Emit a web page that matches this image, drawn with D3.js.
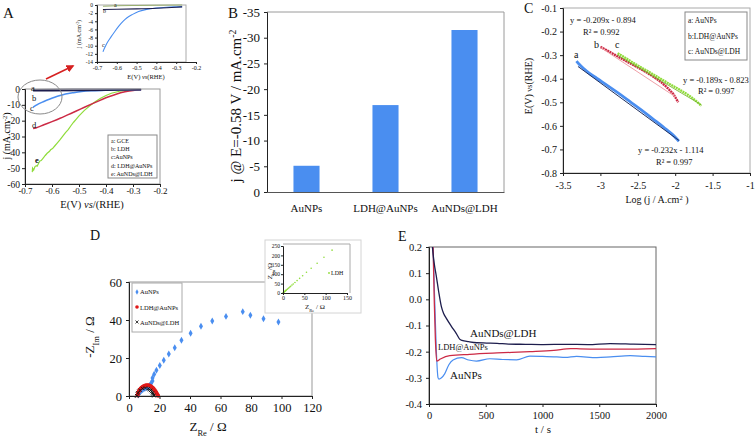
<!DOCTYPE html>
<html><head><meta charset="utf-8">
<script src="https://cdn.jsdelivr.net/npm/d3@7"></script>
<style>body{margin:0;background:#fff} svg{display:block}</style>
</head><body><svg id="c" width="756" height="437"></svg>
<script>
// ---------------- DATA ----------------
// Panel A (LSV) : [E (V vs RHE), j (mA/cm2)]
const aGCE = [[-0.67,-0.3],[-0.6,-0.2],[-0.5,-0.12],[-0.4,-0.06],[-0.27,0]];
const aLDH = [[-0.67,-1.1],[-0.6,-1.05],[-0.5,-0.95],[-0.4,-0.8],[-0.3,-0.55],[-0.27,-0.45]];
const aAuNPs = [[-0.67,-11.5],[-0.66,-10.4],[-0.65,-9.4],[-0.63,-7.9],[-0.61,-6.5],[-0.59,-5.2],[-0.57,-4.1],[-0.55,-3.2],[-0.52,-2.3],[-0.49,-1.6],[-0.45,-1.1],[-0.4,-0.75],[-0.35,-0.55],[-0.3,-0.45],[-0.27,-0.4]];
const aLDHAu = [[-0.67,-25],[-0.66,-24.6],[-0.63,-22.6],[-0.6,-20.6],[-0.57,-18.5],[-0.54,-16.2],[-0.51,-13.9],[-0.48,-11.5],[-0.45,-9.2],[-0.42,-7.0],[-0.39,-4.9],[-0.36,-3.1],[-0.33,-1.8],[-0.3,-0.9],[-0.27,-0.5]];
const aAuNDs = [[-0.673,-52.5],[-0.672,-50],[-0.668,-51.2],[-0.663,-49],[-0.658,-48.5],[-0.655,-48.8],[-0.65,-47],[-0.645,-45.5],[-0.64,-45.2],[-0.632,-43.5],[-0.625,-42],[-0.618,-40.6],[-0.61,-39.5],[-0.605,-38.4],[-0.598,-37.6],[-0.59,-36],[-0.58,-34],[-0.57,-32],[-0.56,-29.8],[-0.55,-27.5],[-0.54,-25.6],[-0.53,-23.2],[-0.52,-21],[-0.51,-19],[-0.5,-17],[-0.48,-13.5],[-0.46,-10.6],[-0.44,-8],[-0.42,-5.8],[-0.4,-4.1],[-0.38,-2.7],[-0.35,-1.4],[-0.32,-0.8],[-0.27,-0.3]];
const aLegend = ["a:  GCE","b:  LDH","c:AuNPs","d:  LDH@AuNPs","e:  AuNDs@LDH"];
const aYTicks = [0,-10,-20,-30,-40,-50,-60];
const aXTicks = [-0.7,-0.6,-0.5,-0.4,-0.3,-0.2];
const aInsetYTicks = [0,-2,-4,-6,-8,-10,-12,-14];

// Panel B (bars)
const bCategories = ["AuNPs","LDH@AuNPs","AuNDs@LDH"];
const bValues = [-5.1,-16.9,-31.5];
const bYTicks = [0,-5,-10,-15,-20,-25,-30,-35];

// Panel C (Tafel) : [log j, E]
const cAuNPs = [[-3.32,-0.325],[-3.28,-0.34],[-3.22,-0.358],[-3.15,-0.376],[-3.05,-0.398],[-2.9,-0.43],[-2.75,-0.463],[-2.6,-0.498],[-2.45,-0.533],[-2.3,-0.57],[-2.15,-0.607],[-2.05,-0.633],[-1.95,-0.665]];
const cLDHAu = [[-3.0,-0.265],[-2.9,-0.282],[-2.8,-0.3],[-2.7,-0.318],[-2.6,-0.335],[-2.5,-0.352],[-2.4,-0.37],[-2.3,-0.39],[-2.2,-0.412],[-2.1,-0.44],[-2.02,-0.468],[-1.96,-0.5]];
const cAuNDs = [[-2.77,-0.292],[-2.7,-0.305],[-2.55,-0.335],[-2.4,-0.362],[-2.25,-0.39],[-2.1,-0.418],[-1.95,-0.445],[-1.8,-0.475],[-1.7,-0.5],[-1.65,-0.515]];
const cFitA = [[-3.3,-0.348],[-1.95,-0.662]];
const cFitB = [[-3.0,-0.267],[-2.0,-0.476]];
const cFitC = [[-2.77,-0.3],[-1.65,-0.511]];
const cLegend = ["a: AuNPs","b:LDH@AuNPs","c: AuNDs@LDH"];
const cYTicks = [-0.1,-0.2,-0.3,-0.4,-0.5,-0.6,-0.7,-0.8];
const cXTicks = [-3.5,-3,-2.5,-2,-1.5,-1];

// Panel D (Nyquist) : [Z_Re, -Z_Im]
const dAuNPs = [[6.0,0.5],[6.8,1.6],[7.8,2.6],[9.0,3.3],[10.4,3.9],[12.0,4.5],[13.4,5.4],[14.4,6.6],[15.4,7.9],[15.4,9.5],[16.5,11.4],[18,13.5],[20.2,16.1],[22.8,18.8],[26.1,22.1],[30,25.4],[34.4,29.3],[40.4,33],[47.2,36.7],[54.6,39.5],[63.6,41.9],[74.6,44.4],[79.6,42.5],[88.2,40.7],[98,38.9]];
const dLDHAu = [[5.6,0.2],[5.8,1.0],[6.1,1.8],[6.5,2.6],[7.0,3.3],[7.6,3.9],[8.3,4.5],[9.0,4.9],[9.8,5.3],[10.6,5.5],[11.4,5.7],[12.2,5.7],[13.0,5.6],[13.8,5.4],[14.6,5.0],[15.4,4.5],[16.1,3.9],[16.8,3.2],[17.4,2.5],[17.9,1.8],[18.4,1.1],[18.8,0.5],[19.1,0.1]];
const dAuNDs = [[5.2,0.1],[5.5,0.9],[6.0,1.7],[6.6,2.4],[7.3,3.0],[8.1,3.5],[9.0,3.9],[9.9,4.1],[10.8,4.2],[11.7,4.1],[12.6,3.9],[13.4,3.5],[14.2,3.0],[14.9,2.4],[15.5,1.7],[16.0,1.0],[16.4,0.3]];
const dInsetLDH = [[0,0],[1,2],[2,4],[3,6],[4,8],[5,10],[6,12],[7,14],[8,16],[10,20],[12,24],[14,28],[16,32],[18,36],[21,42],[24,48],[28,56],[33,66],[39,78],[46,92],[55,110],[66,132],[80,158],[96,190],[115,228]];
const dLegend = ["AuNPs","LDH@AuNPs","AuNDs@LDH"];
const dXTicks = [0,20,40,60,80,100,120];
const dYTicks = [0,20,40,60];
const dInsetXTicks = [0,50,100,150];
const dInsetYTicks = [0,50,100,150,200,250];

// Panel E (chronopotentiometry) : [t (s), E]
const eAuNDs = [[20,0.25],[30,0.2],[45,0.14],[65,0.087],[85,0.03],[109,-0.028],[130,-0.055],[153,-0.073],[200,-0.105],[241,-0.131],[270,-0.152],[290,-0.157],[350,-0.162],[420,-0.166],[507,-0.167],[600,-0.168],[700,-0.171],[850,-0.172],[1007,-0.173],[1200,-0.172],[1400,-0.173],[1596,-0.169],[1800,-0.171],[2000,-0.173]];
const eLDHAu = [[28,0.25],[36,0.2],[46,0.0],[56,-0.15],[68,-0.236],[100,-0.228],[183,-0.215],[359,-0.21],[600,-0.205],[890,-0.2],[1100,-0.195],[1250,-0.188],[1331,-0.189],[1500,-0.19],[1714,-0.19],[2000,-0.188]];
const eAuNPs = [[25,0.25],[35,0.2],[50,0.0],[65,-0.2],[80,-0.3],[88,-0.305],[110,-0.3],[138,-0.285],[175,-0.25],[212,-0.232],[286,-0.223],[350,-0.232],[418,-0.236],[536,-0.227],[650,-0.23],[772,-0.231],[889,-0.217],[1000,-0.218],[1125,-0.22],[1200,-0.222],[1300,-0.218],[1479,-0.223],[1600,-0.22],[1773,-0.215],[1900,-0.218],[2000,-0.22]];
const eLabels = ["AuNDs@LDH","LDH@AuNPs","AuNPs"];
const eXTicks = [0,500,1000,1500,2000];
const eYTicks = [0.2,0.1,0,-0.1,-0.2,-0.3,-0.4];

// ---------------- STYLE ----------------
const SERIF = "Liberation Serif, Times New Roman, serif";
const BLUE = "#4a8ef0", RED = "#cc2a45", GREEN = "#8fdc3a", NAVY = "#1d1d4d", GRAY = "#9a9a9a";
const svg = d3.select("#c");

function txt(x, y, s, fs, o = {}) {
  const t = svg.append("text").attr("x", x).attr("y", y).attr("font-family", SERIF)
    .attr("font-size", fs).attr("fill", o.fill || "#111").attr("text-anchor", o.anchor || "start");
  if (o.rotate) t.attr("transform", `rotate(-90,${x},${y})`);
  if (o.italic) t.attr("font-style", "italic");
  if (o.bold) t.attr("font-weight", "bold");
  t.text(s);
  return t;
}
function rich(x, y, parts, fs, o = {}) {
  const t = svg.append("text").attr("x", x).attr("y", y).attr("font-family", SERIF)
    .attr("font-size", fs).attr("fill", "#111").attr("text-anchor", o.anchor || "middle");
  if (o.rotate) t.attr("transform", `rotate(-90,${x},${y})`);
  parts.forEach(p => {
    const s = t.append("tspan").text(p.t);
    if (p.sub) s.attr("font-size", fs * 0.65).attr("baseline-shift", "sub");
    if (p.sup) s.attr("font-size", fs * 0.65).attr("baseline-shift", "super");
    if (p.it) s.attr("font-style", "italic");
    if (p.small) s.attr("font-size", fs * 0.8);
  });
  return t;
}
function styleAxis(g, fs) {
  g.select(".domain").attr("stroke", "#222");
  g.selectAll(".tick line").attr("stroke", "#222");
  g.selectAll("text").attr("font-family", SERIF).attr("font-size", fs).attr("fill", "#111");
}
function box(x0, y0, x1, y1, stroke = GRAY, fill = "none", sw = 1) {
  svg.append("rect").attr("x", x0).attr("y", y0).attr("width", x1 - x0).attr("height", y1 - y0)
    .attr("fill", fill).attr("stroke", stroke).attr("stroke-width", sw);
}
let clipN = 0;
function clip(x0, y0, x1, y1) {
  const id = "clip" + (clipN++);
  svg.append("clipPath").attr("id", id).append("rect").attr("x", x0).attr("y", y0).attr("width", x1 - x0).attr("height", y1 - y0);
  return `url(#${id})`;
}
function path(data, xs, ys, color, w, cp, curve = d3.curveMonotoneX) {
  const p = svg.append("path").datum(data).attr("fill", "none").attr("stroke", color).attr("stroke-width", w)
    .attr("d", d3.line().x(d => xs(d[0])).y(d => ys(d[1])).curve(curve));
  if (cp) p.attr("clip-path", cp);
  return p;
}
const f1 = d => d.toFixed(1);

// ---------------- PANEL A ----------------
txt(3, 18, "A", 15);
{
  const xs = d3.scaleLinear([-0.7, -0.2], [25, 160]);
  const ys = d3.scaleLinear([-60, 0], [184, 89]);
  box(25, 89, 160, 184);
  const cp = clip(25, 85, 160, 184);
  path(aAuNDs, xs, ys, GREEN, 1.2, cp, d3.curveLinear);
  path(aLDHAu, xs, ys, RED, 1.5, cp);
  path(aAuNPs, xs, ys, BLUE, 1.5, cp);
  path(aLDH, xs, ys, NAVY, 1.5, cp);
  path(aGCE, xs, ys, "#7a7a8a", 1.2, cp);
  styleAxis(svg.append("g").attr("transform", "translate(25,0)")
    .call(d3.axisLeft(ys).tickValues(aYTicks).tickSize(3).tickPadding(2).tickFormat(d => d)), 9.5);
  styleAxis(svg.append("g").attr("transform", "translate(0,184)")
    .call(d3.axisBottom(xs).tickValues(aXTicks).tickSize(3).tickPadding(1).tickFormat(f1)), 9);
  rich(10, 136, [{t:"j (mA.cm"},{t:"-2",sup:true},{t:")"}], 10, {rotate:true});
  rich(92, 208, [{t:"E(V) "},{t:"vs",it:true},{t:"/(RHE)"}], 10.5);
  // curve labels
  [["a",31,91],["b",32,101],["c",30,111],["d",32,128],["e",35,163]].forEach(l => txt(l[1], l[2], l[0], 8.5, {bold: l[0]==="e"}));
  // legend
  box(108, 135, 157, 178, "#888", "#fff");
  aLegend.forEach((s, i) => txt(111, 143 + i * 8.2, s, 6));
  // ellipse + arrow
  svg.append("ellipse").attr("cx", 40).attr("cy", 97).attr("rx", 22).attr("ry", 17)
    .attr("fill", "none").attr("stroke", "#8a8a8a").attr("stroke-width", 1);
  svg.append("defs").append("marker").attr("id", "arr").attr("viewBox", "0 0 10 10").attr("refX", 8).attr("refY", 5)
    .attr("markerWidth", 5).attr("markerHeight", 5).attr("orient", "auto")
    .append("path").attr("d", "M0,0L10,5L0,10z").attr("fill", "#d62020");
  svg.append("line").attr("x1", 46).attr("y1", 79).attr("x2", 73).attr("y2", 66)
    .attr("stroke", "#d62020").attr("stroke-width", 1.6).attr("marker-end", "url(#arr)");
}
// inset A
{
  const xs = d3.scaleLinear([-0.7, -0.2], [97, 196]);
  const ys = d3.scaleLinear([-14, 0], [62, 5]);
  box(97, 5, 186, 62, "#aaa");
  const cp = clip(97, 3, 186, 62);
  path(aAuNPs, xs, ys, BLUE, 1.1, cp);
  path(aLDH, xs, ys, NAVY, 1.1, cp);
  path(aGCE, xs, ys, "#9ab070", 1.1, cp);
  styleAxis(svg.append("g").attr("transform", "translate(97,0)")
    .call(d3.axisLeft(ys).tickValues(aInsetYTicks).tickSize(2).tickPadding(2).tickFormat(d => d)), 5.5);
  styleAxis(svg.append("g").attr("transform", "translate(0,62)")
    .call(d3.axisBottom(xs).tickValues(aXTicks).tickSize(2).tickPadding(2).tickFormat(f1)), 6);
  rich(81, 34, [{t:"j (mA.cm"},{t:"-2",sup:true},{t:")"}], 6, {rotate:true});
  rich(146, 79, [{t:"E(V) "},{t:"vs",it:true},{t:"(RHE)"}], 6.5);
  txt(114, 7, "a", 6); txt(103, 13, "b", 6); txt(102, 47, "c", 6);
}

// ---------------- PANEL B ----------------
txt(228, 18, "B", 15);
{
  const xs = d3.scaleBand(bCategories, [267, 504]).paddingInner(0.67).paddingOuter(0.335);
  const ys = d3.scaleLinear([0, -35], [192, 12]);
  svg.append("path").attr("d", "M267,12H504V192").attr("fill", "none").attr("stroke", GRAY);
  svg.selectAll(".barB").data(bValues).enter().append("rect")
    .attr("x", (d, i) => xs(bCategories[i])).attr("width", xs.bandwidth())
    .attr("y", d => ys(d)).attr("height", d => ys(0) - ys(d)).attr("fill", BLUE);
  styleAxis(svg.append("g").attr("transform", "translate(267,0)")
    .call(d3.axisLeft(ys).tickValues(bYTicks).tickSize(3).tickPadding(4).tickFormat(d => d)), 13);
  const gx = svg.append("g").attr("transform", "translate(0,192)")
    .call(d3.axisBottom(xs).tickSize(0).tickPadding(12));
  styleAxis(gx, 11);
  gx.select(".domain").attr("stroke", "#555");
  rich(241, 106, [{t:"j @ E=-0.58 V / mA.cm"},{t:"-2",sup:true}], 15, {rotate:true});
}

// ---------------- PANEL C ----------------
txt(524, 13, "C", 14);
{
  const xs = d3.scaleLinear([-3.5, -1], [563, 750]);
  const ys = d3.scaleLinear([-0.8, -0.1], [173, 8]);
  box(563, 8, 750, 173, "#aaa");
  const cp = clip(563, 8, 750, 173);
  path(cAuNPs, xs, ys, BLUE, 2.8, cp);
  path(cFitA, xs, ys, "#1f2f5f", 1, cp, d3.curveLinear);
  path(cLDHAu, xs, ys, RED, 2.4, cp).attr("stroke-dasharray", "2,0.6");
  path(cFitB, xs, ys, "#f0a0a8", 1, cp, d3.curveLinear);
  path(cAuNDs, xs, ys, GREEN, 2.4, cp).attr("stroke-dasharray", "2,0.6");
  path(cFitC, xs, ys, "#6cb020", 0.8, cp, d3.curveLinear);
  styleAxis(svg.append("g").attr("transform", "translate(563,0)")
    .call(d3.axisLeft(ys).tickValues(cYTicks).tickSize(3).tickPadding(3).tickFormat(f1)), 10);
  styleAxis(svg.append("g").attr("transform", "translate(0,173)")
    .call(d3.axisBottom(xs).tickValues(cXTicks).tickSize(3).tickPadding(6).tickFormat(d => d)), 10);
  rich(657, 203, [{t:"Log (j / A.cm"},{t:"2",sup:true},{t:" )"}], 10);
  rich(532, 86, [{t:"E(V) "},{t:"vs",small:true},{t:"(RHE)"}], 10, {rotate:true});
  txt(570, 23, "y = -0.209x - 0.894", 8.5);
  txt(583, 35, "R\u00b2 = 0.992", 8.5);
  txt(683, 83, "y = -0.189x - 0.823", 8.5);
  txt(698, 94, "R\u00b2 = 0.997", 8.5);
  txt(638, 153, "y = -0.232x - 1.114", 8.5);
  txt(656, 165, "R\u00b2 = 0.997", 8.5);
  txt(574, 58, "a", 10); txt(594, 48, "b", 10); txt(615, 48, "c", 10);
  box(685, 12, 747, 60, "#888", "#fff");
  cLegend.forEach((s, i) => txt(688, 23 + i * 15.5, s, 7.5));
}

// ---------------- PANEL D ----------------
txt(90, 240, "D", 14);
{
  const xs = d3.scaleLinear([0, 120], [129, 312]);
  const ys = d3.scaleLinear([0, 60], [396, 282]);
  box(129, 282, 312, 396, "#999");
  dAuNDs.forEach(d => {
    const x = xs(d[0]), y = ys(d[1]);
    svg.append("path").attr("d", `M${x-1.8},${y-1.8}L${x+1.8},${y+1.8}M${x-1.8},${y+1.8}L${x+1.8},${y-1.8}`)
      .attr("stroke", "#111").attr("stroke-width", 1);
  });
  svg.selectAll(".ptsDA").data(dAuNPs).enter().append("path")
    .attr("transform", d => `translate(${xs(d[0])},${ys(d[1])})`)
    .attr("d", d3.symbol(d3.symbolDiamond, 14)).attr("fill", BLUE);
  svg.selectAll(".ptsDR").data(dLDHAu).enter().append("circle")
    .attr("cx", d => xs(d[0])).attr("cy", d => ys(d[1])).attr("r", 2).attr("fill", "#e01818");
  dAuNDs.filter((d, i) => i % 2 === 0).forEach(d => {
    const x = xs(d[0]), y = ys(d[1]);
    svg.append("path").attr("d", `M${x-1.6},${y-1.6}L${x+1.6},${y+1.6}M${x-1.6},${y+1.6}L${x+1.6},${y-1.6}`)
      .attr("stroke", "#111").attr("stroke-width", 0.9);
  });
  styleAxis(svg.append("g").attr("transform", "translate(129,0)")
    .call(d3.axisLeft(ys).tickValues(dYTicks).tickSize(3).tickPadding(4).tickFormat(d => d)), 12.5);
  styleAxis(svg.append("g").attr("transform", "translate(0,396)")
    .call(d3.axisBottom(xs).tickValues(dXTicks).tickSize(3).tickPadding(4).tickFormat(d => d)), 12.5);
  rich(208, 431, [{t:"Z"},{t:"Re",sub:true},{t:"  / \u03a9"}], 13);
  rich(94, 337, [{t:"-Z"},{t:"Im",sub:true},{t:" / \u03a9"}], 13, {rotate:true});
  box(132, 283, 182, 332, "#aaa", "#fff");
  svg.append("path").attr("transform", "translate(137,292)").attr("d", d3.symbol(d3.symbolDiamond, 8)).attr("fill", BLUE);
  svg.append("circle").attr("cx", 137).attr("cy", 307).attr("r", 1.8).attr("fill", "#e01818");
  svg.append("path").attr("d", "M135.5,320.5L138.5,323.5M135.5,323.5L138.5,320.5").attr("stroke", "#111").attr("stroke-width", 0.8);
  dLegend.forEach((s, i) => txt(140, 294 + i * 15.5, s, 6.5));
}
// inset D
{
  box(265, 240, 361, 313, "#d4d4d4", "#fff");
  const xs = d3.scaleLinear([0, 150], [283, 347]);
  const ys = d3.scaleLinear([0, 250], [293, 246]);
  svg.append("path").attr("d", "M283,244H350V293").attr("fill", "none").attr("stroke", "#aaa");
  svg.selectAll(".ptsDI").data(dInsetLDH).enter().append("circle")
    .attr("cx", d => xs(d[0])).attr("cy", d => ys(d[1])).attr("r", 0.8).attr("fill", GREEN);
  styleAxis(svg.append("g").attr("transform", "translate(283,0)")
    .call(d3.axisLeft(ys).tickValues(dInsetYTicks).tickSize(2).tickPadding(1).tickFormat(d => d)), 5.5);
  styleAxis(svg.append("g").attr("transform", "translate(0,293)")
    .call(d3.axisBottom(xs).tickValues(dInsetXTicks).tickSize(2).tickPadding(1).tickFormat(d => d)), 6);
  rich(315, 309, [{t:"Z"},{t:"Re",sub:true},{t:" / \u03a9"}], 7);
  rich(272, 271, [{t:"Z"},{t:"Im",sub:true},{t:"/\u03a9"}], 7, {rotate:true});
  svg.append("circle").attr("cx", 329).attr("cy", 273).attr("r", 0.9).attr("fill", GREEN);
  txt(331, 275, "LDH", 6);
}

// ---------------- PANEL E ----------------
txt(398, 241, "E", 14);
{
  const xs = d3.scaleLinear([0, 2000], [429, 656]);
  const ys = d3.scaleLinear([-0.4, 0.2], [404, 247]);
  box(429, 247, 656, 404, "#666");
  const cp = clip(429, 247, 656, 404);
  path(eAuNPs, xs, ys, BLUE, 1.2, cp);
  path(eLDHAu, xs, ys, RED, 1.3, cp);
  path(eAuNDs, xs, ys, NAVY, 1.3, cp);
  styleAxis(svg.append("g").attr("transform", "translate(429,0)")
    .call(d3.axisLeft(ys).tickValues(eYTicks).tickSize(3).tickPadding(4).tickFormat(f1)), 10.5);
  styleAxis(svg.append("g").attr("transform", "translate(0,404)")
    .call(d3.axisBottom(xs).tickValues(eXTicks).tickSize(3).tickPadding(5).tickFormat(d => d)), 10.5);
  txt(543, 433, "t / s", 11, {anchor: "middle"});
  txt(470, 337, eLabels[0], 11);
  txt(438, 350, eLabels[1], 8.5);
  txt(450, 379, eLabels[2], 11);
}
</script></body></html>
